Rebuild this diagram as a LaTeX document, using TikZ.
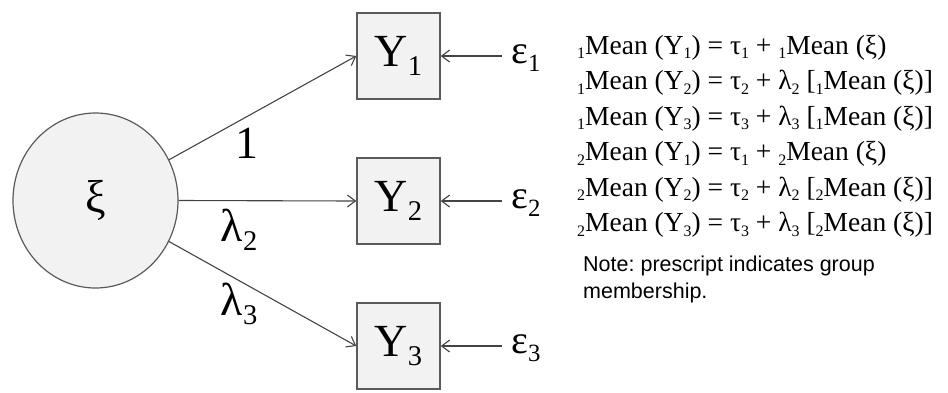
\documentclass[tikz,border=0pt]{standalone}
\usepackage{fontspec}
\setmainfont{Liberation Serif}
\newfontfamily\notefont{Liberation Sans}
\usetikzlibrary{arrows.meta,shapes.geometric}
\definecolor{shade}{HTML}{F2F2F2}
\definecolor{edgecol}{HTML}{5A5A5A}
\definecolor{ink}{HTML}{444444}
\newcommand\lsub[1]{\raisebox{-0.2em}{\scalebox{0.62}{#1}}}
\newcommand\esub[1]{\raisebox{-0.17em}{\scalebox{0.58}{#1}}}
\frenchspacing
\begin{document}
\begin{tikzpicture}[x=1pt,y=-1pt,
  latent/.style={ellipse, draw=edgecol, fill=shade, line width=1.2pt, minimum width=165pt, minimum height=175pt, inner sep=0pt, font=\fontsize{46}{46}\selectfont},
  obs/.style={rectangle, draw=edgecol, fill=shade, line width=1.5pt, minimum width=83pt, minimum height=86pt, inner sep=0pt, font=\fontsize{46}{46}\selectfont},
  biglab/.style={inner sep=0pt, font=\fontsize{46}{46}\selectfont},
  errlab/.style={inner sep=0pt, anchor=west, font=\fontsize{40}{40}\selectfont},
  eq/.style={inner sep=0pt, anchor=base west, font=\fontsize{27.5}{27.5}\selectfont},
  notetext/.style={inner sep=0pt, anchor=base west, font=\notefont\fontsize{21.5}{21.5}\selectfont},
  link/.style={draw=ink, line width=1.1pt, -{Straight Barb[length=8pt,width=12pt,line width=1.1pt]}}
]
\useasboundingbox (0,0) rectangle (948,392);

\node[latent] (xi) at (95.5,200.5) {ξ};
\node[obs] (y1) at (398.5,56) {Y\lsub{1}};
\node[obs] (y2) at (398.5,201) {Y\lsub{2}};
\node[obs] (y3) at (398.5,346) {Y\lsub{3}};

\coordinate (e1s) at (502,56);
\coordinate (e2s) at (502,201);
\coordinate (e3s) at (502,346);
\node[errlab] (e1) at (511,58) {ε\lsub{1}};
\node[errlab] (e2) at (511,203) {ε\lsub{2}};
\node[errlab] (e3) at (511,348) {ε\lsub{3}};

\draw[link] (xi) -- (y1.west);
\draw[link] (xi.east) -- (y2.west);
\draw[link] (xi) -- (y3.west);
\draw[link] (e1s) -- (y1.east);
\draw[link] (e2s) -- (y2.east);
\draw[link] (e3s) -- (y3.east);

\node[biglab] (l1) at (247,143) {1};
\node[biglab] (l2) at (239,230) {λ\lsub{2}};
\node[biglab] (l3) at (239,304) {λ\lsub{3}};

\node[eq] (q1) at (577,54) {\esub{1}Mean (Y\esub{1}) = τ\esub{1} + \esub{1}Mean (ξ)};
\node[eq] (q2) at (577,89.5) {\esub{1}Mean (Y\esub{2}) = τ\esub{2} + λ\esub{2} [\esub{1}Mean (ξ)]};
\node[eq] (q3) at (577,125) {\esub{1}Mean (Y\esub{3}) = τ\esub{3} + λ\esub{3} [\esub{1}Mean (ξ)]};
\node[eq] (q4) at (577,160.5) {\esub{2}Mean (Y\esub{1}) = τ\esub{1} + \esub{2}Mean (ξ)};
\node[eq] (q5) at (577,196) {\esub{2}Mean (Y\esub{2}) = τ\esub{2} + λ\esub{2} [\esub{2}Mean (ξ)]};
\node[eq] (q6) at (577,231.5) {\esub{2}Mean (Y\esub{3}) = τ\esub{3} + λ\esub{3} [\esub{2}Mean (ξ)]};

\node[notetext] (n1) at (583,271) {Note: prescript indicates group};
\node[notetext] (n2) at (583,298) {membership.};
\end{tikzpicture}
\end{document}
